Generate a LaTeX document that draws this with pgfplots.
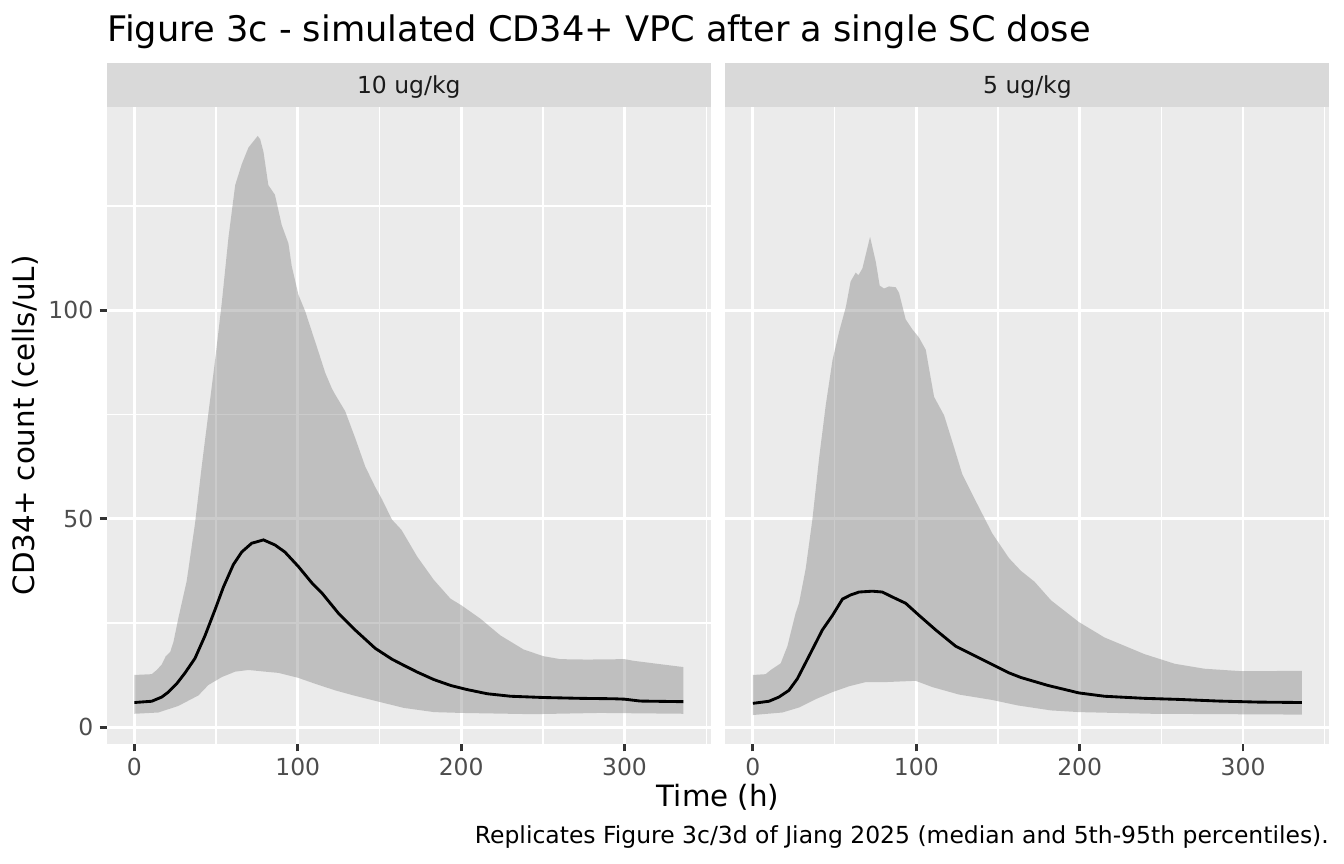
\documentclass[border=0pt]{standalone}
\usepackage{pgfplots}
\pgfplotsset{compat=1.18}
\usepackage{fontspec}
\setmainfont{DejaVu Sans}
\definecolor{panelbg}{HTML}{EBEBEB}
\definecolor{stripbg}{HTML}{D9D9D9}
\definecolor{ticklab}{HTML}{4D4D4D}
\definecolor{tickcol}{HTML}{333333}
\definecolor{striptext}{HTML}{1A1A1A}
\definecolor{ribbon}{HTML}{7F7F7F}
\pgfplotsset{
  ggbase/.style={
    scale only axis, width=226.45pt, height=238.9pt,
    xmin=-16.8, xmax=352.8, ymin=-4.05, ymax=148.75,
    axis background/.style={fill=panelbg},
    axis line style={draw=none},
    grid=both,
    major grid style={white, line width=1.07pt},
    minor grid style={white, line width=0.53pt},
    xtick={0,100,200,300}, minor xtick={50,150,250,350},
    minor ytick={25,75,125},
    minor tick length=0pt,
    tick align=outside, major tick length=2.75pt,
    tick style={tickcol, line width=1.07pt},
    tick pos=left,
    ticklabel style={font=\fontsize{8.8}{10}\selectfont, text=ticklab},
    /pgf/number format/assume math mode=true,
    xticklabel style={anchor=north, inner sep=0pt, yshift=-2.2pt},
    yticklabel style={anchor=east, inner sep=0pt, xshift=-2.2pt},
    anchor=south west,
  },
  ribbonstyle/.style={draw=none, fill=ribbon, fill opacity=0.4, forget plot},
  medianstyle/.style={black, line width=1.07pt, no markers},
}
\begin{document}
\begin{tikzpicture}
\useasboundingbox (0,0) rectangle (504pt,324pt);
% ---------------- Panel 1: 10 ug/kg
\begin{axis}[ggbase, at={(40.1pt,45pt)},
  ytick={0,50,100}]
\addplot[ribbonstyle] coordinates {
(0,12.5) (10.6,12.7) (13.7,13.7) (16.7,15) (19.2,17) (21.9,18) (23.9,20.4)
(27,26.3) (32,35) (37.1,48.8) (41.2,62.5) (45.3,75.3) (49.4,88) (53.5,101.8)
(57.6,117.5) (61.7,130) (65.7,135) (69.8,139) (75.5,141.8) (77,141) (79,138)
(82,130) (86,127.7) (90.2,120.4) (94.3,116) (96.3,110.6) (100.4,103.7)
(104.5,99.8) (108.6,94.9) (112.7,90) (116.8,85) (120.9,81.2) (123,79.7)
(129,75.8) (135.1,69.4) (141.3,62.5) (147.4,57.6) (151.5,54.7) (157.6,49.8)
(163.5,47.3) (173.1,40.9) (183.3,35.3) (193.5,30.8) (200.2,29.2) (211.8,26)
(224,22) (238.3,18.6) (250.5,17) (260.7,16.3) (277,16.2) (300,16.3)
(305.6,15.9) (336,14.4)
(336,3.2) (285,3.4) (244,3.1) (200,3.4) (183.3,3.6) (165,4.6) (151.5,5.9)
(135.1,7.5) (123,8.8) (110.6,10.4) (100.4,11.8) (88.2,13) (80,13.3)
(69.8,13.7) (61.7,13.3) (53.5,12) (45.3,10.1) (39.2,7.6) (27,5.1)
(14.7,3.5) (0,3.2)
};
\addplot[medianstyle] coordinates {
(0,5.9) (10.6,6.2) (16.7,7.2) (20.8,8.4) (25.9,10.4) (31,13) (37.1,16.5)
(43.2,21.9) (49.4,28.2) (54.5,33.6) (60.6,39) (65.7,42) (71.8,44.1) (79,44.9)
(86,43.7) (92.1,42) (100.4,38.5) (108.6,34.6) (114.7,32.2) (124.9,27.3)
(135.1,23.3) (147.4,18.9) (157.6,16.3) (165,14.8) (173.1,13.2) (183.3,11.4)
(193.5,10) (203.7,9) (216,8) (230.3,7.4) (250.5,7.1) (273,6.9) (293.4,6.8)
(300,6.7) (309.6,6.25) (336,6.1)
};
\end{axis}
% ---------------- Panel 2: 5 ug/kg
\begin{axis}[ggbase, at={(272.05pt,45pt)},
  ytick=\empty,
  extra y ticks={0,50,100}, extra y tick labels={},
  extra y tick style={major tick length=0pt, grid=major}]
\addplot[ribbonstyle] coordinates {
(0,12.5) (7.8,12.7) (10.9,13.7) (17,15.3) (21.1,19.4) (26.1,27.3) (28.2,29.7)
(32.3,38) (36.4,49.8) (40.5,64.5) (44.6,77.3) (48.7,88) (52.8,94.9)
(56.9,100.8) (59.8,106.9) (62.9,109) (64.6,108.4) (67,110) (71.7,117.6)
(75.2,111.6) (77.6,105.9) (80.3,105.2) (83.3,105.7) (87.4,105.5) (89.4,104.2)
(93.5,97.8) (97.6,95.4) (101.7,93.4) (105.8,90.5) (107.8,86) (110.9,79.2)
(117,74.8) (122.1,68.4) (128.2,60.6) (136.4,54.2) (146.6,46.4) (156.8,40.5)
(164,37.5) (172.3,34.9) (182.5,30.4) (199.5,25.2) (215.2,21.5) (239.7,17.5)
(258.1,15.2) (276.5,14) (299.5,13.4) (336,13.5)
(336,3) (243.9,3.2) (199.5,3.6) (182.5,4) (162.1,5.2) (146.6,6.5) (126.2,7.8)
(109.8,9.6) (99.6,11.1) (81.3,10.8) (69.1,10.8) (58.9,9.8) (48.7,8.4)
(38.4,6.7) (28.2,4.7) (18,3.5) (0,2.9)
};
\addplot[medianstyle] coordinates {
(0,5.7) (9.8,6.2) (15.9,7.2) (22,8.8) (27.2,11.6) (34.3,17) (42.5,23.3)
(48.7,26.8) (54.8,30.7) (59.8,31.7) (65,32.4) (73.1,32.6) (79.2,32.4)
(85.4,31.2) (93.5,29.7) (101.7,26.8) (111.9,23.3) (124.1,19.4) (136.4,17)
(146.6,15) (156.8,13) (164,11.9) (180.5,10) (199.5,8.2) (215.2,7.4)
(239.7,6.9) (260.2,6.65) (284.7,6.25) (309.2,6) (336,5.9)
};
\end{axis}
% ---------------- strips
\fill[stripbg] (40.1pt,283.9pt) rectangle (266.55pt,300.5pt);
\fill[stripbg] (272.05pt,283.9pt) rectangle (498.5pt,300.5pt);
\node[anchor=base, inner sep=0pt, text=striptext, font=\fontsize{8.8}{10}\selectfont] at (153.3pt,288.75pt) {10 ug/kg};
\node[anchor=base, inner sep=0pt, text=striptext, font=\fontsize{8.8}{10}\selectfont] at (385.3pt,288.75pt) {5 ug/kg};
% ---------------- titles
\node[anchor=base west, inner sep=0pt, font=\fontsize{13.2}{15}\selectfont] at (40.1pt,308.4pt) {Figure 3c - simulated CD34+ VPC after a single SC dose};
\node[rotate=90, anchor=base, inner sep=0pt, font=\fontsize{11}{13}\selectfont] at (13.1pt,164.45pt) {CD34+ count (cells/uL)};
\node[anchor=base, inner sep=0pt, font=\fontsize{11}{13}\selectfont] at (269.3pt,21.5pt) {Time (h)};
\node[anchor=base east, inner sep=0pt, font=\fontsize{8.8}{10}\selectfont] at (498.5pt,7.8pt) {Replicates Figure 3c/3d of Jiang 2025 (median and 5th-95th percentiles).};
\end{tikzpicture}
\end{document}
